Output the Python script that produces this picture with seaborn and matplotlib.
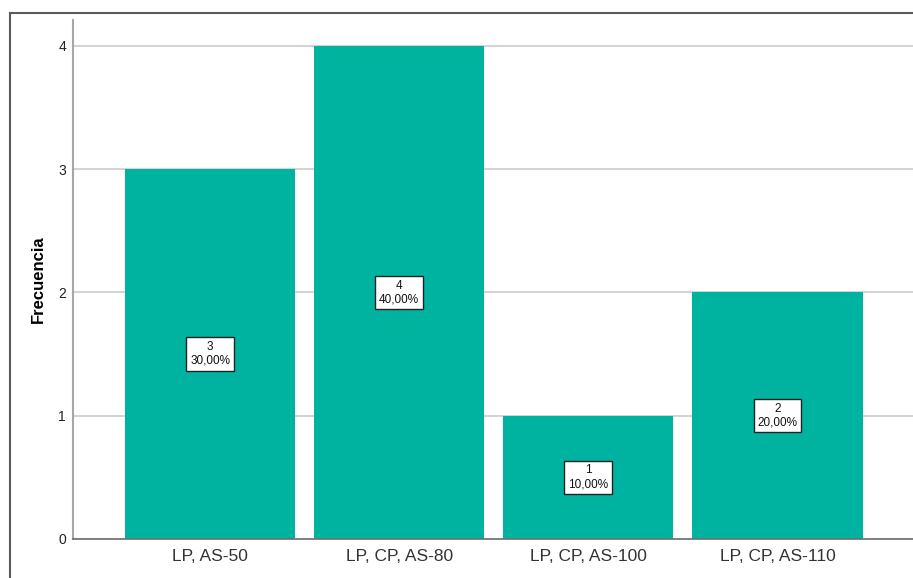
import matplotlib
matplotlib.use("Agg")
import matplotlib.pyplot as plt
from matplotlib.patches import Rectangle
import seaborn as sns
import pandas as pd

# Frequency table
categories = ["LP, AS-50", "LP, CP, AS-80", "LP, CP, AS-100", "LP, CP, AS-110"]
counts = [3, 4, 1, 2]
percents = ["30,00%", "40,00%", "10,00%", "20,00%"]

df = pd.DataFrame({"Categoria": categories, "Frecuencia": counts})

sns.set_style("white")
plt.rcParams["font.family"] = ["Liberation Sans", "DejaVu Sans"]

W, H = 913, 578
fig = plt.figure(figsize=(W / 100, H / 100), dpi=100)
ax = fig.add_axes([73 / W, (H - 539) / H, (W - 73) / W, (539 - 20) / H])

sns.barplot(data=df, x="Categoria", y="Frecuencia", color="#00b3a0",
            saturation=1, width=0.9, linewidth=0, ax=ax, zorder=2)

ax.set_xlim(-0.725, 3.717)
ax.set_ylim(0, 4.21)
ax.set_yticks([0, 1, 2, 3, 4])
ax.yaxis.grid(True, color="#d4d4d4", linewidth=1.5, zorder=0)
ax.set_axisbelow(True)

for s in ["top", "right"]:
    ax.spines[s].set_visible(False)
ax.spines["left"].set_color("#a6a6a6")
ax.spines["left"].set_linewidth(1.5)
ax.spines["bottom"].set_color("#6e6e6e")
ax.spines["bottom"].set_linewidth(1.2)

ax.tick_params(axis="y", length=0, pad=5, labelsize=10, labelcolor="#222222")
ax.tick_params(axis="x", length=0, pad=7, labelsize=12.5, labelcolor="#333333")
ax.set_xlabel("")
ax.set_ylabel("Frecuencia", fontsize=12, fontweight="bold", color="black",
              labelpad=9)

# Value labels centred in each bar
for i, (c, p) in enumerate(zip(counts, percents)):
    ax.text(i, c / 2, f"{c}\n{p}", ha="center", va="center", fontsize=8.5,
            linespacing=1.2, color="#111111", zorder=5,
            bbox=dict(boxstyle="square,pad=0.32", facecolor="white",
                      edgecolor="#222222", linewidth=1))

# Outer frame of the chart
fig.patches.append(Rectangle((10 / W, -0.05), 1.1, (H - 13) / H + 0.05,
                             transform=fig.transFigure, fill=False,
                             edgecolor="#5a5a5a", linewidth=1.5))

fig.savefig("out.png", dpi=100)
